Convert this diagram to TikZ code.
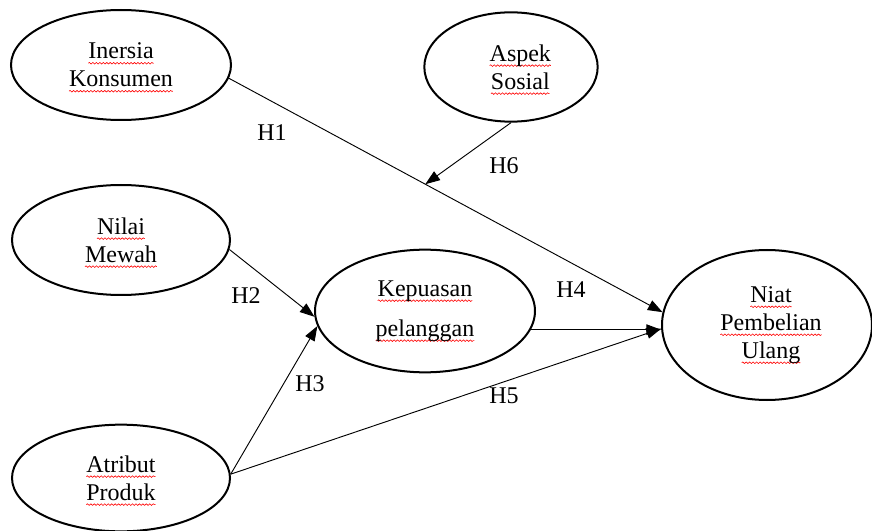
\documentclass[tikz,border=0pt]{standalone}
\usepackage{fontspec}
\setmainfont{Liberation Serif}
\usepackage{xcolor}
\usepackage{tikz}
\usetikzlibrary{arrows.meta,positioning,shapes.geometric,decorations.pathmorphing}
\newsavebox{\sqbox}
\newcommand{\sq}[1]{\sbox{\sqbox}{#1}\rlap{\tikz[overlay]\draw[red, line width=0.45pt, decorate, decoration={snake, amplitude=0.6pt, segment length=2.6pt}] (0pt,-3.3pt) -- (\wd\sqbox,-3.3pt);}\usebox{\sqbox}}

\begin{document}
\begin{tikzpicture}[x=0.75pt, y=-0.75pt, font=\fontsize{18}{21}\selectfont, >={Triangle[length=11pt,width=8pt]},
  every node/.style={align=center},
  var/.style={draw, ellipse, line width=1.5pt, inner sep=0pt},
  link/.style={->, line width=0.7pt},
  hyp/.style={inner sep=0pt}]
  \useasboundingbox (0,0) rectangle (872,531);
  % Variables
  \node[var, minimum width=165pt, minimum height=82.5pt] (IK) at (121,65) {\sq{Inersia}\\\sq{Konsumen}};
  \node[var, minimum width=130pt, minimum height=82pt] (AS) at (511,67) {\hspace*{14pt}\sq{Aspek}\\\hspace*{14pt}\sq{Sosial}};
  \node[var, minimum width=163.5pt, minimum height=82.5pt] (NM) at (121,240) {\sq{Nilai}\\\sq{Mewah}};
  \node[var, minimum width=165pt, minimum height=92pt] (KP) at (425,311) {\sq{Kepuasan}\\[9pt]\sq{pelanggan}};
  \node[var, minimum width=163.5pt, minimum height=80pt] (AP) at (121,478) {\sq{Atribut}\\\sq{Produk}};
  \node[var, minimum width=157.5pt, minimum height=112.5pt] (NP) at (767,325) {\hspace*{6pt}\sq{Niat}\\\hspace*{6pt}\sq{Pembelian}\\\hspace*{6pt}\sq{Ulang}};

  % Hypotheses
  \node[hyp] (H1) at (272,133) {H1};
  \node[hyp] (H2) at (246,296) {H2};
  \node[hyp] (H3) at (310,384) {H3};
  \node[hyp] (H4) at (571,290) {H4};
  \node[hyp] (H5) at (504,396) {H5};
  \node[hyp] (H6) at (504,166) {H6};

  % Arrows
  \path (IK.-7) -- (NP.173) coordinate[pos=0.453] (mod);
  \draw[link] (IK.-7) -- (NP.173);
  \draw[link] (AS.south) -- (mod);
  \draw[link] (NM.-5) -- (KP.183);
  \draw[link] (AP.2) -- (KP.188);
  \draw[link] (KP.-10) -- (KP.-10 -| NP.west);
  \draw[link] (AP.2) -- (NP.182);
\end{tikzpicture}
\end{document}
